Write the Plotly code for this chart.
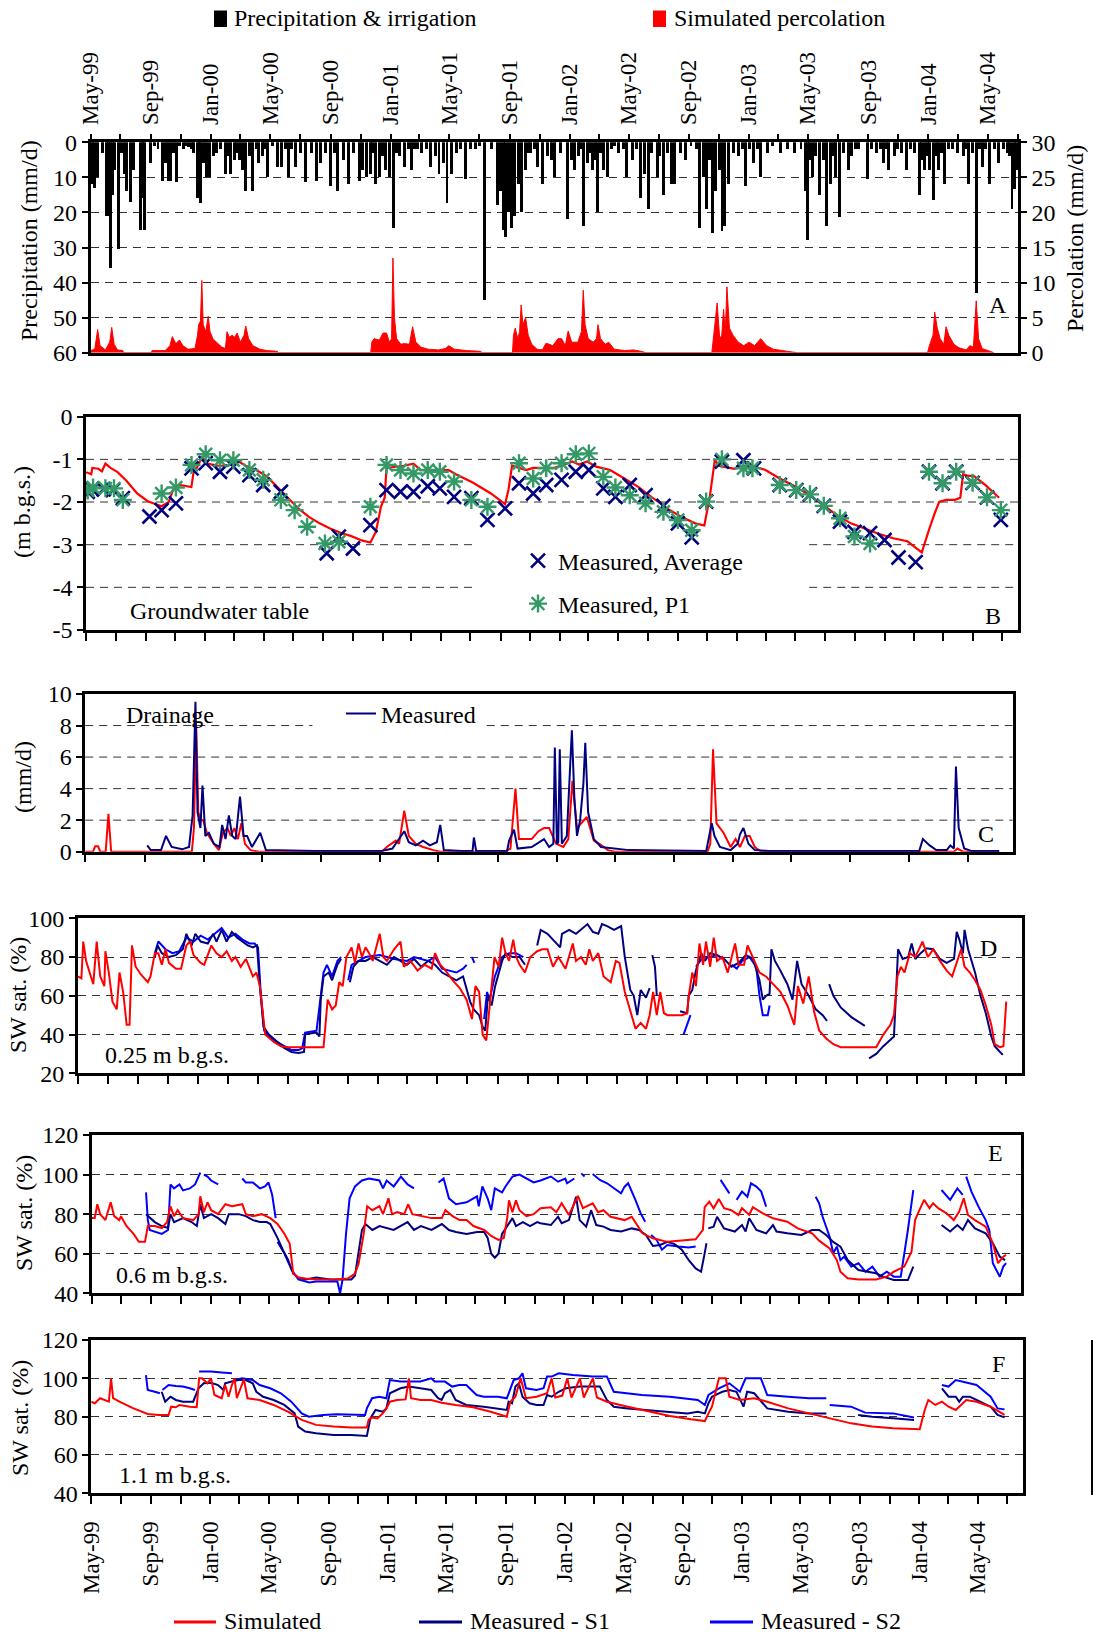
import plotly.graph_objects as go
import pandas as pd

W, H = 1095, 1634
SERIF = "Liberation Serif"
RED, NAVY, BLUE, GREEN = "#ff0000", "#000080", "#0000ff", "#339966"
START = pd.Timestamp("1999-05-01")


def to_date(m):
    """Month offset (fractional, counted from 1 May 1999) -> timestamp."""
    whole = int(m)
    a = START + pd.DateOffset(months=whole)
    b = START + pd.DateOffset(months=whole + 1)
    return a + (b - a) * (m - whole)


def unzip(pairs):
    xs, ys = [], []
    for p in pairs:
        if p is None:
            xs.append(None)
            ys.append(None)
        else:
            xs.append(to_date(p[0]))
            ys.append(p[1])
    return xs, ys


# ---------------- Panel A: rainfall + irrigation (mm/d) and simulated percolation ----------------
precip = [
    (0.09, 12), (0.23, 13), (0.4, 10), (0.75, 3), (1.03, 21), (1.17, 21), (1.27, 36), (1.41, 15), (1.57, 8),
    (1.85, 30.5), (2.04, 3), (2.2, 9), (2.39, 14), (2.63, 17), (2.81, 8), (3.28, 25), (3.42, 16), (3.56, 25),
    (3.92, 6), (4.2, 1), (4.45, 2), (4.74, 11), (4.97, 6), (5.13, 11), (5.32, 11), (5.5, 3), (5.67, 11.5),
    (5.9, 1), (6.14, 2), (6.3, 1), (6.49, 1.5), (6.7, 2), (6.85, 3), (7.08, 16), (7.22, 12), (7.32, 17.5),
    (7.5, 6), (7.67, 10), (7.9, 10), (8.14, 4), (8.37, 3), (8.6, 2), (8.96, 9), (9.1, 4), (9.31, 9), (9.54, 5),
    (9.7, 3), (9.9, 5), (10.13, 8), (10.32, 14), (10.55, 4), (10.79, 14), (11.0, 2), (11.18, 6), (11.42, 4),
    (11.6, 2), (11.77, 10), (12.1, 1), (12.47, 7), (12.71, 7), (12.95, 2), (13.18, 10), (13.4, 2), (13.65, 7),
    (14.0, 3), (14.3, 11.5), (14.7, 3), (15.05, 11), (15.29, 6), (15.64, 3), (15.99, 12.5), (16.2, 3),
    (16.41, 14), (16.81, 5), (17.16, 12), (17.51, 3), (17.87, 11), (18.1, 8), (18.34, 10), (18.62, 9),
    (18.8, 3), (18.97, 12), (19.27, 10), (19.45, 4), (19.62, 8), (19.93, 10), (20.16, 24.5), (20.35, 3),
    (20.56, 4), (20.91, 7), (21.15, 2), (21.38, 8), (21.6, 2), (21.85, 2), (22.09, 3), (22.4, 2), (22.67, 7),
    (23.02, 4), (23.26, 9), (23.54, 6), (23.8, 17.5), (24.08, 9), (24.43, 3), (24.7, 2), (25.02, 10.5),
    (25.37, 2), (25.72, 2), (26.0, 1), (26.33, 45), (26.78, 2), (27.13, 18), (27.36, 14), (27.53, 25),
    (27.71, 27), (27.9, 20), (28.07, 24.5), (28.3, 21), (28.54, 12), (28.77, 20), (29.0, 8), (29.2, 3),
    (29.36, 3), (29.6, 2), (29.82, 7), (30.18, 12), (30.52, 4), (30.76, 5), (30.99, 10), (31.35, 3),
    (31.82, 22), (32.06, 5), (32.3, 8), (32.53, 4), (32.7, 2), (32.89, 24), (33.13, 6), (33.3, 3), (33.48, 8),
    (33.72, 5), (33.91, 20), (34.1, 3), (34.31, 8), (34.55, 10), (34.8, 2), (35.0, 1), (35.26, 3), (35.61, 2),
    (35.85, 10), (36.2, 5), (36.5, 2), (36.75, 16), (37.03, 9), (37.27, 19), (37.5, 3), (37.86, 10),
    (38.05, 4), (38.28, 15), (38.55, 3), (38.8, 12), (39.04, 12), (39.4, 3), (39.75, 5), (40.1, 1),
    (40.45, 2), (40.7, 24.5), (40.93, 10), (41.17, 19), (41.35, 5), (41.53, 26), (41.76, 14), (42.0, 8),
    (42.17, 25.5), (42.35, 24), (42.59, 12), (42.95, 3), (43.3, 4), (43.55, 2), (43.77, 12.5), (44.0, 2),
    (44.25, 6), (44.5, 2), (44.72, 10), (45.19, 3), (45.6, 1), (46.14, 3), (46.61, 2), (47.09, 3), (47.5, 2),
    (47.8, 14), (47.96, 28), (48.1, 5), (48.27, 10), (48.5, 4), (48.74, 15), (49.0, 5), (49.22, 24),
    (49.45, 12), (49.65, 4), (49.81, 10), (50.09, 21.5), (50.35, 3), (50.64, 8), (50.87, 4), (51.1, 2),
    (51.35, 2), (51.94, 10.5), (52.2, 2), (52.53, 3), (52.8, 2), (53.0, 6), (53.2, 2), (53.36, 8), (53.71, 4),
    (53.95, 2), (54.19, 3), (54.54, 8), (54.8, 2), (55.1, 3), (55.37, 15), (55.55, 5), (55.72, 8), (55.9, 4),
    (56.08, 8), (56.32, 16.5), (56.5, 4), (56.67, 8), (56.85, 3), (57.03, 12), (57.3, 2), (57.6, 2),
    (57.97, 3), (58.33, 4), (58.5, 2), (58.68, 12), (58.95, 3), (59.2, 43), (59.4, 2), (59.63, 7), (59.85, 2),
    (60.1, 12), (60.4, 2), (60.69, 6), (61.0, 2), (61.29, 3), (61.45, 4), (61.59, 19), (61.76, 13.5), (61.9, 8),
]

percolation = [
    (0, 0.3), (0.28, 0.5), (0.47, 3.3), (0.63, 1.0), (0.98, 0.4), (1.27, 1.5), (1.41, 3.6), (1.57, 1.2),
    (1.8, 0.4), (2.16, 0.3), (2.2, 0), (4.03, 0), (4.08, 0.3), (4.97, 0.3), (5.28, 1.0), (5.44, 2.3),
    (5.67, 1.3), (5.91, 1.8), (6.14, 1.0), (6.49, 0.5), (6.96, 0.6), (7.13, 2.5), (7.2, 4), (7.32, 4.5),
    (7.41, 10.3), (7.5, 4), (7.67, 3), (7.83, 5.2), (7.95, 3), (8.14, 2), (8.37, 1.5), (8.72, 0.8), (8.96, 0.6),
    (9.07, 3), (9.24, 2.2), (9.43, 2.5), (9.61, 2.2), (9.78, 2.8), (10.01, 1.5), (10.25, 2.5), (10.36, 3.8),
    (10.55, 2), (10.83, 1.0), (11.3, 0.5), (11.77, 0.3), (12.47, 0.2), (12.52, 0), (18.69, 0), (18.76, 1.5),
    (18.92, 2.0), (19.27, 1.8), (19.51, 2.8), (19.74, 2.8), (19.93, 1.5), (20.07, 2.0), (20.16, 13.5),
    (20.26, 5), (20.4, 2), (20.68, 1.2), (20.91, 1.3), (21.27, 1.2), (21.5, 3.7), (21.74, 1.5), (22.09, 0.8),
    (22.56, 0.5), (23.26, 0.4), (23.73, 0.6), (23.96, 1.0), (24.32, 0.5), (25.14, 0.3), (26.07, 0.2),
    (26.19, 0), (28.18, 0), (28.25, 2.5), (28.37, 3.5), (28.54, 2), (28.66, 3), (28.77, 6.8), (28.89, 4),
    (29.07, 5), (29.24, 2.5), (29.47, 1.2), (29.82, 0.5), (30.18, 0.4), (30.41, 1.3), (30.52, 1.3),
    (30.88, 1.0), (31.23, 2.0), (31.47, 2.0), (31.71, 1.0), (31.9, 3.1), (32.13, 1.5), (32.53, 1.5),
    (32.77, 3), (32.89, 8.9), (33.01, 4), (33.24, 2), (33.6, 1.5), (33.84, 2), (33.95, 4), (34.12, 2),
    (34.43, 1.2), (34.66, 1.5), (35.02, 0.5), (35.73, 0.3), (36.32, 0.4), (36.79, 0.2), (37.15, 0),
    (41.53, 0), (41.64, 2), (41.88, 7.1), (42.05, 2), (42.19, 2.5), (42.31, 6.2), (42.43, 3), (42.54, 9.4),
    (42.71, 3.5), (42.95, 2.5), (43.3, 1.5), (43.66, 1.0), (44.01, 1.5), (44.37, 1.0), (44.77, 2),
    (45.19, 1.0), (45.67, 0.5), (46.61, 0.2), (47.28, 0), (55.96, 0), (56.08, 1.0), (56.32, 2.5),
    (56.43, 5.8), (56.6, 3.5), (56.79, 2), (57.03, 1.2), (57.19, 3.7), (57.38, 2.5), (57.74, 1.2),
    (58.09, 0.7), (58.56, 0.4), (58.8, 1.0), (59.04, 0.8), (59.23, 7.4), (59.39, 2), (59.63, 0.6),
    (59.98, 0.3), (60.41, 0),
]

# ---------------- Panel B: groundwater table (m below ground surface) ----------------
gw_simulated = [
    (0, -1.3), (0.35, -1.35), (0.42, -1.2), (0.82, -1.22), (1.06, -1.28), (1.3, -1.1), (1.65, -1.2),
    (2.13, -1.3), (2.72, -1.5), (3.43, -1.8), (4.14, -1.98), (4.73, -2.05), (5.09, -2.1), (5.56, -2.0),
    (5.92, -1.65), (6.27, -1.6), (6.75, -1.62), (7.1, -1.65), (7.29, -1.2), (7.46, -1.2), (7.81, -0.95),
    (8.17, -1.1), (8.88, -1.15), (9.59, -1.15), (10.3, -1.05), (10.78, -1.15), (11.49, -1.25), (12.2, -1.4),
    (12.91, -1.65), (13.62, -1.9), (14.33, -2.15), (15.04, -2.35), (15.75, -2.5), (16.46, -2.62),
    (17.17, -2.72), (17.89, -2.8), (18.6, -2.9), (19.19, -2.95), (19.55, -2.7), (19.9, -2.1), (20.14, -1.9),
    (20.26, -1.2), (20.73, -1.18), (21.44, -1.15), (22.15, -1.1), (22.63, -1.25), (23.81, -1.25),
    (24.52, -1.25), (25.0, -1.35), (26.18, -1.55), (27.36, -1.8), (28.31, -2.05), (28.55, -1.7),
    (28.79, -1.15), (29.26, -1.2), (29.73, -1.25), (30.21, -1.2), (31.64, -1.2), (32.12, -1.15),
    (32.83, -1.05), (33.31, -1.12), (33.91, -1.05), (34.51, -1.17), (35.46, -1.25), (36.42, -1.45),
    (37.38, -1.65), (38.33, -1.9), (39.29, -2.15), (40.25, -2.35), (41.2, -2.5), (41.8, -2.55),
    (41.92, -2.3), (42.16, -1.9), (42.4, -1.3), (42.52, -1.0), (42.76, -1.15), (43.36, -1.18),
    (43.83, -1.22), (44.43, -1.15), (45.03, -1.15), (45.99, -1.25), (46.94, -1.45), (47.9, -1.62),
    (48.86, -1.82), (49.81, -2.05), (50.77, -2.3), (51.73, -2.5), (52.68, -2.62), (53.64, -2.75),
    (54.6, -2.85), (55.55, -2.92), (56.51, -3.18), (56.75, -2.9), (56.99, -2.65), (57.35, -2.3),
    (57.71, -2.0), (58.19, -1.95), (58.78, -1.95), (59.14, -1.9), (59.33, -1.35), (59.62, -1.38),
    (60.1, -1.4), (60.82, -1.6), (61.77, -1.9),
]
gw_avg = [
    (0.11, -1.76), (0.4, -1.7), (1.18, -1.7), (1.82, -1.72), (2.48, -1.91), (4.26, -2.34), (5.09, -2.19),
    (6.04, -2.03), (7.11, -1.21), (8.05, -1.09), (9.0, -1.29), (9.95, -1.17), (11.02, -1.37), (11.97, -1.6),
    (13.15, -1.76), (16.23, -3.2), (17.06, -2.81), (18.0, -3.09), (19.19, -2.54), (20.26, -1.72),
    (21.21, -1.76), (22.15, -1.76), (23.1, -1.63), (23.93, -1.68), (24.88, -1.88), (26.06, -1.91),
    (27.13, -2.42), (28.31, -2.15), (29.26, -1.56), (30.21, -1.8), (31.1, -1.6), (32.12, -1.48),
    (33.07, -1.29), (34.03, -1.25), (34.99, -1.68), (35.82, -1.88), (36.78, -1.6), (37.86, -1.84),
    (39.05, -2.09), (40.01, -2.5), (40.96, -2.83), (41.92, -1.99), (43.0, -1.05), (44.43, -1.02),
    (45.15, -1.21), (46.94, -1.6), (48.07, -1.72), (48.98, -1.82), (49.93, -2.09), (51.01, -2.46),
    (51.97, -2.7), (53.04, -2.73), (54.0, -2.89), (54.96, -3.3), (56.1, -3.41), (56.99, -1.29),
    (57.95, -1.56), (58.86, -1.29), (59.98, -1.55), (60.94, -1.89), (61.89, -2.42),
]
gw_p1 = [
    (0.11, -1.73), (0.47, -1.66), (1.3, -1.68), (1.89, -1.68), (2.48, -1.95), (5.09, -1.8), (6.04, -1.66),
    (7.11, -1.13), (8.05, -0.88), (9.0, -1.02), (9.95, -1.02), (11.02, -1.25), (11.97, -1.48),
    (13.15, -1.95), (14.09, -2.19), (14.92, -2.58), (16.11, -2.97), (17.06, -2.93), (19.19, -2.11),
    (20.26, -1.13), (21.21, -1.25), (22.15, -1.33), (23.1, -1.25), (23.93, -1.29), (24.88, -1.52),
    (26.06, -1.95), (27.13, -2.11), (29.26, -1.09), (30.21, -1.45), (31.1, -1.21), (32.12, -1.09),
    (33.07, -0.88), (34.03, -0.86), (34.99, -1.41), (35.82, -1.66), (36.78, -1.84), (37.86, -2.03),
    (39.05, -2.23), (40.01, -2.42), (40.96, -2.66), (41.92, -1.99), (43.0, -1.0), (44.43, -1.21),
    (45.03, -1.21), (46.94, -1.6), (48.07, -1.72), (48.98, -1.82), (49.93, -2.09), (51.01, -2.38),
    (51.97, -2.81), (53.04, -2.97), (56.99, -1.29), (57.95, -1.56), (58.86, -1.29), (59.98, -1.55),
    (60.94, -1.89), (61.89, -2.19),
]

# ---------------- Panel C: drainage (mm/d) ----------------
drain_simulated = [
    (0, 0), (0.52, 0), (0.67, 0.35), (0.86, 0.35), (1.0, 0), (1.38, 0), (1.57, 2.4), (1.76, 0), (7.22, 0),
    (7.36, 1.5), (7.51, 8.0), (7.65, 2.5), (7.84, 2.0), (7.98, 2.0), (8.22, 1.2), (8.69, 0.5), (9.03, 0.1),
    (9.31, 1.2), (9.64, 1.5), (9.88, 1.0), (10.12, 1.5), (10.36, 0.8), (10.59, 1.8), (10.83, 0.5),
    (11.21, 0.1), (11.78, 0), (20.1, 0), (20.43, 0.3), (21.04, 0.7), (21.28, 0.5), (21.66, 2.6), (22.0, 1.0),
    (22.47, 0.5), (22.95, 0.3), (23.66, 0.1), (24.13, 0), (28.5, 0), (28.88, 0.2), (29.22, 4.0),
    (29.45, 0.8), (30.31, 0.8), (30.78, 1.3), (31.16, 1.5), (31.5, 1.5), (31.97, 0.5), (32.45, 0.3),
    (32.78, 0.8), (33.06, 4.5), (33.4, 1.5), (33.87, 2.0), (34.11, 2.2), (34.58, 0.7), (34.96, 0.5),
    (35.53, 0.1), (36.01, 0), (42.28, 0), (42.47, 0.5), (42.66, 6.5), (42.9, 1.8), (43.37, 1.2),
    (43.85, 0.3), (44.18, 0.8), (44.47, 0.3), (44.8, 1.0), (45.13, 1.0), (45.51, 0.3), (45.99, 0),
    (59.05, 0), (59.29, 0.2), (59.67, 0), (62.14, 0),
]
drain_measured = [
    (4.18, 0.4), (4.42, 0.1), (5.13, 0.1), (5.46, 1.0), (5.84, 0.3), (6.56, 0.15), (7.03, 0.3), (7.27, 2.3),
    (7.46, 9.5), (7.6, 2.5), (7.79, 1.5), (7.93, 4.2), (8.12, 1.0), (8.36, 1.2), (8.69, 0.5), (9.07, 0.3),
    (9.26, 1.7), (9.5, 0.8), (9.74, 2.3), (9.98, 1.0), (10.21, 0.8), (10.5, 3.5), (10.74, 1.0), (10.97, 1.0),
    (11.31, 0.3), (11.88, 1.2), (12.26, 0.1), (15.58, 0.05), (20.1, 0.05), (20.81, 0.2), (21.66, 1.3),
    (22.0, 0.6), (22.47, 0.4), (22.95, 0.7), (23.42, 0.4), (23.9, 0.6), (24.13, 1.7), (24.37, 0.1),
    (25.56, 0.05), (26.32, 0.05), (26.41, 0.9), (26.56, 0.05), (28.65, 0.05), (28.79, 0.7), (29.12, 1.4),
    (29.36, 0.2), (30.31, 0.3), (31.16, 0.8), (31.5, 0.3), (31.78, 0.5), (31.88, 6.6), (32.02, 0.5),
    (32.11, 0.6), (32.21, 6.5), (32.35, 0.5), (32.68, 1.0), (33.02, 7.7), (33.21, 3.3), (33.4, 1.0),
    (33.63, 2.0), (33.87, 4.3), (34.01, 6.9), (34.2, 2.5), (34.58, 0.8), (35.06, 0.3), (36.01, 0.2),
    (36.96, 0.1), (42.19, 0.05), (42.57, 1.8), (42.76, 1.0), (43.13, 0.3), (43.85, 0.1), (44.32, 0.5),
    (44.47, 1.1), (44.7, 1.5), (45.04, 0.5), (45.51, 0.1), (46.46, 0.05), (56.67, 0.05), (56.91, 0.8),
    (57.39, 0.4), (57.86, 0.1), (58.57, 0.1), (58.81, 0.4), (59.05, 0.2), (59.19, 5.4), (59.38, 1.5),
    (59.76, 0.2), (60.24, 0.05), (62.14, 0.05),
]

# ---------------- Panel D: soil-water saturation at 0.25 m (%) ----------------
swD_simulated = [
    (0, 70), (0.23, 69), (0.35, 88), (0.54, 78), (0.77, 72), (1.01, 66), (1.24, 88), (1.48, 70), (1.76, 65),
    (1.83, 83), (2.06, 72), (2.3, 57), (2.58, 53), (2.76, 72), (3.0, 62), (3.23, 45), (3.42, 45), (3.58, 86),
    (3.82, 75), (4.17, 71), (4.64, 67), (4.82, 70), (5.11, 82), (5.34, 82), (5.57, 76), (5.81, 84),
    (6.04, 77), (6.51, 74), (6.86, 74), (7.21, 86), (7.45, 88), (7.68, 81), (8.15, 77), (8.38, 76),
    (8.85, 86), (9.2, 82), (9.56, 80), (9.91, 83), (10.26, 78), (10.49, 80), (10.84, 75), (11.19, 79),
    (11.66, 70), (11.9, 72), (12.13, 65), (12.48, 40), (13.07, 36), (13.54, 34), (14.0, 33.5), (16.35, 33.5),
    (16.46, 43), (16.63, 58), (16.93, 53), (17.17, 55), (17.4, 67), (17.63, 65), (17.87, 80), (18.22, 85),
    (18.45, 77), (18.69, 87), (18.92, 80), (19.16, 85), (19.39, 82), (19.63, 78), (20.09, 92), (20.33, 80),
    (20.56, 78), (21.03, 84), (21.5, 88), (21.73, 75), (22.2, 78), (22.67, 73), (23.14, 76), (23.61, 74),
    (23.84, 82), (24.19, 76), (24.54, 73), (25.01, 68), (25.48, 64), (25.95, 58), (26.3, 48), (26.53, 65),
    (26.77, 62), (27.0, 40), (27.24, 37), (27.47, 55), (27.78, 80), (28.06, 75), (28.29, 90), (28.52, 82),
    (28.76, 78), (29.04, 89), (29.23, 80), (29.46, 76), (29.81, 72), (30.16, 80), (30.63, 83), (30.98, 84),
    (31.32, 84), (31.68, 75), (32.03, 80), (32.5, 74), (32.98, 87), (33.21, 78), (33.57, 80), (33.92, 76),
    (34.16, 84), (34.39, 78), (34.75, 82), (35.1, 70), (35.58, 67), (35.93, 78), (36.17, 77), (36.52, 62),
    (37.23, 43), (37.58, 46), (37.94, 43), (38.18, 50), (38.41, 62), (38.65, 50), (38.88, 62), (39.12, 51),
    (39.36, 50), (40.3, 50), (40.66, 51), (40.77, 60), (41.01, 72), (41.25, 65), (41.48, 87), (41.72, 76),
    (41.91, 88), (42.19, 75), (42.43, 90), (42.66, 78), (43.02, 80), (43.37, 72), (43.85, 87), (44.08, 76),
    (44.44, 76), (44.67, 86), (45.03, 80), (45.5, 72), (45.97, 70), (46.33, 67), (46.92, 62), (47.39, 55),
    (47.86, 45), (48.1, 65), (48.45, 56), (48.81, 70), (49.16, 52), (49.52, 42), (49.99, 38), (50.46, 35),
    (50.94, 33.5), (53.3, 33.5), (53.77, 40), (54.24, 45), (54.48, 50), (54.72, 70), (54.95, 75),
    (55.19, 72), (55.54, 82), (55.9, 80), (56.37, 88), (56.72, 80), (57.08, 84), (57.55, 78), (58.02, 73),
    (58.38, 70), (58.73, 78), (58.97, 84), (59.2, 75), (59.56, 72), (59.91, 68), (60.27, 63), (60.62, 55),
    (60.98, 45), (61.21, 35), (61.57, 33.5), (61.8, 34), (61.99, 57),
]
swD_s1 = [
    (5.11, 80), (5.29, 86), (5.57, 82), (6.04, 80), (6.51, 81), (6.98, 84), (7.21, 92), (7.56, 86), (7.8, 92),
    (8.15, 88), (8.62, 87), (8.97, 92), (9.2, 88), (9.56, 94), (9.91, 88), (10.26, 93), (10.61, 90),
    (10.96, 88), (11.31, 86), (11.66, 85), (11.94, 86), (12.13, 65), (12.37, 44), (12.72, 40), (13.3, 36),
    (13.77, 33), (14.24, 31), (14.71, 30.5), (15.06, 31), (15.13, 40), (15.41, 40.5), (15.88, 41),
    (16.07, 39), (16.16, 58), (16.35, 70), (16.7, 72), (16.93, 68), (17.28, 76), (17.52, 79), None,
    (18.1, 67), (18.34, 75), (18.69, 78), (19.16, 78), (19.63, 80), (20.09, 78), (20.56, 76), (21.03, 80),
    (21.5, 78), (21.97, 76), (22.44, 79), (22.9, 75), (23.37, 78), (23.84, 76), (24.31, 72), (24.78, 70),
    (25.25, 68), (25.71, 70), (26.18, 57), (26.42, 53), (26.77, 50), (27.0, 44), (27.17, 42), (27.35, 60),
    (27.59, 55), (27.82, 65), (28.06, 72), (28.29, 78), (28.52, 82), (28.99, 80), (29.46, 80), (29.81, 76),
    None, (30.63, 86), (30.87, 94), (31.32, 92), (31.8, 88), (32.15, 85), (32.27, 92), (32.74, 94),
    (33.21, 92), (33.69, 95), (34.04, 97), (34.39, 93), (34.75, 92), (34.99, 97), (35.34, 96), (35.81, 94),
    (36.28, 96), (36.52, 80), (36.88, 63), (37.11, 60), (37.35, 50), (37.58, 63), (37.94, 59), (38.18, 64),
    None, (38.36, 81), (38.53, 75), (38.65, 60), None, (40.18, 52), (40.66, 51), (40.77, 60), (41.01, 63),
    (41.25, 73), (41.6, 82), (41.84, 78), (42.19, 82), (42.66, 81), (43.14, 79), (43.61, 75), (44.08, 77),
    (44.56, 81), (45.03, 79), (45.5, 68), (45.74, 58), (45.97, 60), (46.21, 61), (46.33, 84), (46.56, 78),
    (46.92, 73), (47.39, 66), (47.74, 58), (48.05, 78), (48.34, 66), (48.81, 60), (49.28, 53), (49.75, 50),
    (50.04, 47), None, (50.18, 66), (50.46, 60), (50.94, 54), (51.64, 49), (52.54, 44.5), None,
    (52.83, 27.7), (53.3, 30), (53.77, 34), (54.48, 39), (54.6, 58), (54.76, 84), (55.07, 79), (55.43, 80),
    (55.66, 87), (55.9, 79), (56.25, 82), (56.61, 84.5), (57.08, 84), (57.55, 79), (58.02, 77), (58.5, 79),
    (58.68, 93), (58.85, 89), (59.09, 82), (59.2, 94), (59.44, 84), (59.91, 72), (60.27, 60), (60.62, 51),
    (60.98, 39), (61.21, 34), (61.57, 31), (61.76, 29.5),
]
swD_s2 = [
    (5.11, 82), (5.34, 88), (5.81, 84), (6.28, 82), (6.74, 83), (7.21, 90), (7.68, 88), (8.15, 91), (8.62, 89),
    (9.09, 92), (9.56, 95), (10.02, 90), (10.49, 92), (10.96, 89), (11.43, 87), (11.78, 87), (12.01, 85),
    (12.18, 62), (12.41, 42), (12.83, 38), (13.54, 35), (14.24, 32), (14.71, 32), (14.94, 33), (15.13, 41),
    (15.88, 42), (16.16, 60), (16.35, 72), (16.58, 76), (16.93, 70), (17.28, 78), (17.52, 80), None,
    (17.99, 68), (18.22, 76), (19.16, 80), (20.09, 81), (21.03, 79), (21.97, 78), (22.44, 80), (23.37, 78),
    (23.84, 80), (24.31, 74), (24.78, 73), (25.25, 72), (25.71, 74), (25.95, 76), None, (26.3, 80),
    (26.46, 77), None, (27.1, 48), (27.29, 62), (27.45, 58), (27.8, 70), (28.29, 80), (28.76, 82),
    (29.23, 82), (29.7, 80), None, (40.42, 40), (40.66, 45), (40.89, 50), None, (41.25, 75), (41.72, 80),
    (42.19, 80), (42.66, 81), (43.02, 79), None, (43.61, 76), (43.96, 74), (44.32, 78), (44.79, 80),
    (45.26, 75), (45.5, 60), (45.74, 50), (46.09, 50), (46.21, 55),
]

# ---------------- Panel E: soil-water saturation at 0.6 m (%) ----------------
swE_simulated = [
    (0, 78), (0.19, 78), (0.36, 85), (0.55, 80), (0.9, 77), (1.26, 86), (1.5, 79), (1.85, 77), (1.97, 79),
    (2.33, 74), (2.81, 70), (3.16, 66), (3.57, 66), (3.76, 74), (4.23, 74), (4.71, 73), (5.07, 76), (5.3, 84),
    (5.54, 79), (5.78, 82), (6.14, 78), (6.85, 77), (7.21, 80), (7.32, 89), (7.56, 81), (7.8, 86), (8.04, 82),
    (8.51, 80), (8.99, 85), (9.46, 84), (10.18, 85), (10.42, 80), (10.89, 79), (11.49, 80), (12.08, 78),
    (12.56, 75), (13.03, 70), (13.39, 65), (13.63, 50), (13.98, 48), (14.46, 47.5), (15.17, 47), (16.36, 47),
    (17.31, 47.5), (17.79, 50), (18.03, 55), (18.38, 70), (18.62, 84), (18.98, 82), (19.45, 84), (19.69, 80),
    (20.05, 88), (20.29, 80), (20.64, 81), (21.12, 80), (21.4, 85), (21.71, 80), (22.31, 79), (23.02, 78),
    (23.73, 78), (23.97, 82), (24.45, 79), (24.92, 77), (25.4, 77), (25.87, 74), (26.59, 72), (27.06, 69),
    (27.54, 67), (27.9, 68), (28.13, 78), (28.25, 87), (28.49, 81), (28.73, 87), (28.97, 82), (29.44, 79),
    (29.92, 80), (30.39, 83), (31.1, 83.5), (31.46, 81), (31.82, 85.5), (32.3, 79.6), (32.9, 89.2),
    (33.26, 83), (33.98, 85.5), (34.34, 81), (34.7, 82), (35.18, 78.7), (36.14, 77), (36.62, 78.7),
    (37.34, 70.3), (38.06, 67.8), (39.02, 66), (39.98, 66.6), (40.94, 67.3), (41.42, 72), (41.54, 83.5),
    (41.85, 86.3), (42.14, 83), (42.5, 87.7), (42.86, 83), (43.34, 82), (43.82, 79.6), (44.06, 83),
    (44.54, 79.6), (44.78, 83.5), (45.5, 80.4), (46.22, 77.9), (47.18, 76.2), (47.9, 72.8), (48.86, 70.3),
    (49.34, 66.6), (50.06, 62.7), (50.54, 56.8), (50.78, 50.9), (51.26, 47.6), (51.98, 47), (53.18, 47),
    (53.9, 48.4), (54.38, 50.9), (55.1, 53.5), (55.58, 61), (55.82, 77), (56.06, 81.3), (56.42, 87.2),
    (56.78, 83), (57.02, 85.5), (57.38, 83), (57.98, 80.4), (58.46, 77), (58.82, 81.3), (59.13, 88),
    (59.42, 79.6), (59.9, 77), (60.62, 73.7), (61.1, 65.3), (61.46, 55.2), (61.82, 58.5), (62.01, 59.4),
]
swE_s1 = [
    (3.64, 80), (4.23, 76), (4.71, 74), (5.14, 73), (5.3, 80), (5.54, 76), (6.14, 78), (6.73, 76), (7.09, 74),
    (7.32, 85), (7.56, 78), (8.04, 80), (8.51, 78), (8.99, 75), (9.23, 80), (9.94, 80), (10.42, 79),
    (10.89, 77), (11.37, 76), (11.84, 76), (12.08, 75), (12.56, 68), (12.91, 62), (13.27, 57), (13.63, 50),
    (13.98, 48), (14.46, 47), (15.17, 48), (16.12, 47), (17.07, 47), (17.55, 47), (17.79, 49), (18.03, 60),
    (18.26, 72), (18.5, 75), (18.98, 72), (19.45, 74), (19.93, 73), (20.4, 72), (21.36, 76), (21.83, 72),
    (22.31, 74), (23.02, 72), (23.73, 75), (24.21, 72), (24.68, 71), (25.4, 70), (26.11, 71), (26.59, 71),
    (26.82, 68), (27.06, 60), (27.3, 58), (27.54, 60), (27.78, 70), (28.13, 74), (28.49, 78), (28.73, 74),
    (29.2, 76), (29.68, 74), (30.16, 76), (30.38, 75.4), (31.1, 74.5), (31.58, 78.7), (31.82, 75.4),
    (32.3, 77), (32.78, 88.8), (33.02, 77), (33.5, 73.7), (33.86, 82), (34.22, 74.5), (34.7, 73.7),
    (35.18, 72), (35.9, 71.2), (36.62, 72.8), (37.1, 72), (37.58, 69.5), (38.06, 63.9), (38.54, 64.4),
    (39.02, 66), (39.5, 64.9), (39.98, 62), (40.46, 56.8), (40.94, 52.6), (41.3, 50.9), (41.54, 60.2),
    (41.66, 65.3), None, (41.78, 72.8), (42.14, 73.7), (42.38, 78.7), (42.86, 72.8), (43.58, 71.2),
    (44.06, 74.5), (44.3, 71.2), (44.54, 77.9), (45.02, 72), (45.74, 70.3), (46.22, 74.5), (46.46, 71.2),
    (47.18, 70.3), (48.14, 69.5), (48.86, 72), (49.34, 72), (49.82, 69.5), (50.3, 66), (50.78, 63.6),
    (51.26, 56.8), (51.98, 51.8), (53.18, 50.1), (53.66, 48.4), (54.38, 46.7), (55.34, 46.7), (55.7, 53.5),
    None, (57.62, 74.5), (58.22, 71.2), (58.7, 74.5), (59.06, 72), (59.42, 77), (59.9, 72.8), (60.62, 70.3),
    (61.1, 65.3), (61.58, 58.5), (61.94, 56.8),
]
swE_s2 = [
    (3.64, 91), (3.76, 77), (3.88, 72), (4.23, 71), (4.71, 70), (5.14, 72), (5.3, 95), (5.54, 93), (5.9, 95),
    (6.14, 92), (6.61, 93), (6.97, 95), (7.09, 97), (7.32, 101), None, (7.56, 100), (7.8, 99), (8.04, 97),
    (8.51, 95), None, (10.18, 98), (10.42, 96), (10.89, 96), (11.37, 93), (11.72, 94), (11.96, 96),
    (12.2, 90), (12.44, 78), None, (12.56, 66), (13.03, 60), (13.51, 52), (13.98, 47), (14.7, 45.5),
    (15.17, 46), (16.6, 46), (16.79, 40), (16.96, 47), (17.19, 70), (17.43, 88), (17.79, 94), (18.26, 97),
    (18.74, 98), (19.45, 97), (19.69, 93), (19.93, 97), (20.4, 94), (20.88, 99), (21.36, 95), (21.83, 93),
    None, (23.5, 96), (23.85, 98), (24.21, 88), (24.68, 85), (25.4, 86), (26.11, 89), (26.23, 84),
    (26.47, 94), (26.82, 88), (27.06, 82), (27.3, 93), (27.78, 91), (28.01, 94), (28.49, 99), (28.97, 100),
    (29.44, 98), (29.92, 96), (30.39, 97), (31.1, 99), (31.58, 96.4), (32.06, 98), (32.18, 95.6),
    (32.66, 98), None, (33.14, 100.6), (33.38, 99), None, (33.98, 100.3), (34.46, 97.3), (34.94, 95.6),
    (35.42, 93), (35.9, 90.5), (36.14, 93.9), (36.38, 95.6), (36.86, 87.2), (37.22, 80.4), (37.53, 76.2),
    None, (37.94, 69.5), (38.3, 67), (38.66, 62), (39.02, 64.4), (39.74, 63.6), (40.46, 63.2),
    (40.94, 63.6), None, (42.62, 97.3), (42.86, 94.7), (43.22, 90.5), None, (43.7, 87.2), (44.06, 91.4),
    (44.42, 88.8), (44.66, 95.6), (45.02, 93.9), (45.38, 91.4), (45.74, 83.8), None, (49.1, 88.8),
    (49.34, 85.5), (49.58, 78.7), (49.82, 73.7), (50.06, 68.6), (50.3, 60.2), (50.54, 63.6), (50.78, 56.8),
    (51.02, 58.5), (51.5, 53.5), (51.98, 55.2), (52.46, 50.9), (52.94, 53.5), (53.42, 48.4), (53.9, 50.9),
    (54.38, 48.4), (54.86, 48.4), (55.34, 72), (55.7, 92.2), None, (57.62, 92.2), (58.22, 87.2),
    (58.7, 93), (59.06, 89.7), None, (59.3, 99), (59.66, 91.4), (60.14, 83.8), (60.62, 77), (60.86, 72),
    (61.1, 55.2), (61.34, 51.8), (61.58, 48.4), (61.82, 53.5), (62.01, 55.2),
]

# ---------------- Panel F: soil-water saturation at 1.1 m (%) ----------------
swF_simulated = [
    (0, 87.8), (0.24, 87), (0.59, 89.6), (0.95, 88.7), (1.18, 87.8), (1.33, 100), (1.47, 89.6), (1.9, 87.8),
    (2.84, 84.3), (3.79, 81.4), (4.5, 80.9), (5.21, 80.9), (5.38, 85.2), (5.69, 84.9), (5.92, 86.1),
    (6.64, 85.2), (7.11, 84.9), (7.27, 100), (7.46, 100), (7.82, 97.4), (8.06, 100), (8.29, 91.3),
    (8.77, 89.6), (9.0, 96.5), (9.24, 90.4), (9.48, 96.5), (9.67, 100), (9.83, 89.6), (10.31, 99.5),
    (10.55, 89.6), (11.37, 88.7), (12.32, 86.1), (13.27, 82.6), (14.22, 78.3), (15.17, 75.7), (16.35, 74.8),
    (17.54, 74.3), (18.6, 74.3), (18.72, 78.3), (18.96, 79.6), (19.31, 79.1), (19.67, 81.7), (19.91, 84.3),
    (20.14, 87.8), (20.62, 88.7), (21.21, 89), (21.45, 100), (21.61, 89.6), (22.27, 88.7), (22.99, 88.7),
    (23.7, 87.3), (24.64, 86.1), (25.83, 84.9), (27.01, 82.6), (28.08, 80), (28.32, 87.8), (28.67, 90.4),
    (29.03, 100), (29.38, 89.6), (30.09, 90.4), (30.81, 92.2), (31.12, 100), (31.36, 90), (31.83, 91),
    (32.16, 100), (32.44, 90), (33.0, 100), (33.29, 90), (33.95, 100), (34.23, 90), (34.89, 87.8),
    (36.31, 85.2), (37.72, 82.6), (39.14, 80.3), (40.56, 78.6), (41.5, 77.7), (41.74, 81.7), (41.97, 85.2),
    (42.45, 100), (42.92, 100), (43.16, 90.4), (43.86, 88.7), (44.81, 89.6), (45.75, 87.8), (47.17, 84.3),
    (48.58, 81.7), (50.0, 79.1), (51.41, 76.5), (52.83, 74.8), (54.25, 73.9), (56.04, 73.4), (56.37, 83.5),
    (56.61, 88.7), (57.08, 86.1), (57.55, 87.8), (58.02, 85.2), (58.5, 83.5), (59.2, 88.7), (59.91, 87.8),
    (60.85, 85.2), (61.8, 80.9),
]
swF_s1 = [
    (4.74, 93), (4.98, 87.8), (5.33, 90.4), (5.69, 88.7), (6.16, 87.8), (6.87, 87.8), (7.23, 94.8),
    (7.58, 97.4), (8.06, 97.7), (8.53, 96.5), (8.89, 93.9), (9.0, 97.4), (9.48, 98.3), (9.95, 99.1),
    (10.43, 99.1), (10.9, 97.4), (11.14, 93), (11.61, 90.4), (12.32, 88.7), (13.03, 86.1), (13.74, 81.7),
    (13.98, 74.8), (14.45, 72.2), (15.17, 71.3), (16.35, 70.4), (17.54, 70.4), (18.6, 69.9), (18.84, 79.1),
    (19.19, 83.5), (19.67, 82.6), (19.91, 84.3), (20.14, 92.2), (20.85, 94.8), (21.45, 95.7), (22.27, 94.8),
    (22.99, 93.9), (23.46, 89.6), (23.7, 88.7), (23.93, 92.2), (24.29, 93.9), (24.64, 88.7), (25.36, 86.1),
    (26.54, 85.2), (27.49, 84.3), (28.08, 83.5), (28.2, 87.8), (28.44, 87), (28.67, 95.7), (28.91, 97.4),
    (29.15, 90.4), (29.62, 87), (30.09, 86.1), (30.57, 86.1), (30.81, 91.3), (31.12, 90.4), (31.59, 93),
    (32.06, 94.8), (33.0, 95.7), (34.42, 95.7), (34.89, 88.7), (35.36, 85.2), (36.31, 84.3), (37.72, 83.5),
    (39.14, 82.6), (40.32, 81.7), (41.03, 82.6), (41.5, 81.7), (41.74, 87), (41.97, 90.4), (42.68, 93),
    (43.16, 93.9), (43.63, 93), (44.1, 85.2), (44.34, 93), (44.81, 92.2), (45.75, 84.3), (47.17, 82.6),
    (48.58, 81.7), (49.76, 81.7), None, (51.88, 80.9), (52.83, 80), (54.25, 79.1), (55.66, 78.3), None,
    (57.55, 94.8), (58.02, 90.4), (58.5, 90.4), (58.73, 87.8), (58.97, 90.4), (59.44, 90.4), (59.91, 88.7),
    (60.85, 85.2), (61.32, 80.9), (61.8, 79.6),
]
swF_s2 = [
    (3.67, 101.7), (3.79, 93.9), (4.27, 93), (4.62, 92.2), None, (4.79, 93.9), (5.21, 96.5), (5.69, 96),
    (6.16, 95.7), (6.64, 94.8), (6.99, 93.9), None, (7.27, 103.5), (8.06, 103.5), (8.77, 103),
    (9.48, 102.6), None, (9.72, 99.1), (10.19, 100), (10.9, 99.1), (11.37, 96.5), (12.09, 94.8),
    (12.8, 92.2), (13.51, 87.8), (14.22, 81.7), (14.69, 80), (15.64, 80.9), (16.59, 81.2), (17.54, 80.9),
    (18.48, 80.9), (18.6, 84.3), (18.96, 89.6), (19.43, 90.4), (19.91, 89.6), (20.14, 99.1), (20.85, 98.3),
    (21.56, 98.3), (22.27, 98.3), (22.99, 100), (23.22, 98.3), (23.93, 98.3), (24.41, 95.7), (24.88, 96.5),
    (25.36, 96.5), (26.07, 91.3), (26.54, 90.4), (27.49, 90.4), (28.08, 89.6), (28.55, 99.1), (28.91, 100),
    (29.15, 102.6), (29.38, 94.8), (30.09, 93.9), (30.57, 94.8), (30.81, 100.9), (31.12, 100.9),
    (31.59, 102.6), (32.53, 101.7), (33.95, 100.9), (34.89, 100.9), (35.36, 93), (37.25, 91.3),
    (39.14, 90.4), (41.03, 88.7), (41.5, 86.1), (41.74, 91.3), (42.45, 94.8), (43.16, 97.4), (43.86, 93),
    (44.24, 100), (45.28, 100), (45.75, 91.3), (47.17, 90.4), (48.58, 89.6), (49.76, 89.6), None,
    (49.99, 86.1), (51.41, 85.2), (52.36, 82.1), (54.25, 81.7), (55.66, 79.6), None, (57.55, 96.5),
    (58.02, 95.7), (58.5, 99.1), (58.97, 98.3), (59.91, 96.5), (60.85, 90.4), (61.32, 84.3), (61.8, 83.8),
]

# ---------------- figure layout helpers ----------------
def px(x):
    return x / W


def py(y):
    return 1 - y / H


def tick_set(step, last, label_every):
    vals, text = [], []
    for k in range(0, last + 1, step):
        d = START + pd.DateOffset(months=k)
        vals.append(d)
        text.append(d.strftime("%b-%y") if k % label_every == 0 else "")
    return vals, text


fig = go.Figure()

# Panel A
px_, py_ = unzip(precip)
fig.add_trace(go.Bar(x=px_, y=py_, base=0, width=6 * 86400000, marker=dict(color="black", line=dict(width=0)),
                     name="Precipitation & irrigation", showlegend=False, xaxis="x", yaxis="y"))
cx, cy = unzip(percolation)
fig.add_trace(go.Scatter(x=cx, y=cy, mode="lines", line=dict(color=RED, width=1), fill="tozeroy",
                         fillcolor=RED, name="Simulated percolation", showlegend=False, xaxis="x", yaxis="y2"))

# Panel B
gx, gy = unzip(gw_simulated)
fig.add_trace(go.Scatter(x=gx, y=gy, mode="lines", line=dict(color=RED, width=2.2), showlegend=False,
                         xaxis="x2", yaxis="y3"))
ax_, ay_ = unzip(gw_avg)
fig.add_trace(go.Scatter(x=ax_, y=ay_, mode="markers", name="Measured, Average",
                         marker=dict(symbol="x-thin", size=14, color=NAVY, line=dict(width=2.6, color=NAVY)),
                         xaxis="x2", yaxis="y3", legend="legend"))
bx_, by_ = unzip(gw_p1)
fig.add_trace(go.Scatter(x=bx_, y=by_, mode="markers", name="Measured, P1",
                         marker=dict(symbol="asterisk", size=15, color=GREEN, line=dict(width=2.4, color=GREEN)),
                         xaxis="x2", yaxis="y3", legend="legend2"))

# Panel C
dx, dy = unzip(drain_simulated)
fig.add_trace(go.Scatter(x=dx, y=dy, mode="lines", line=dict(color=RED, width=2), showlegend=False,
                         xaxis="x3", yaxis="y4"))
mx, my = unzip(drain_measured)
fig.add_trace(go.Scatter(x=mx, y=my, mode="lines", line=dict(color=NAVY, width=2), name="Measured",
                         xaxis="x3", yaxis="y4", legend="legend3"))

# Panels D, E, F
panels = [
    (swD_simulated, swD_s1, swD_s2, "x4", "y5"),
    (swE_simulated, swE_s1, swE_s2, "x5", "y6"),
    (swF_simulated, swF_s1, swF_s2, "x6", "y7"),
]
for sim, s1, s2, xa, ya in panels:
    x2_, y2_ = unzip(s2)
    fig.add_trace(go.Scatter(x=x2_, y=y2_, mode="lines", line=dict(color=BLUE, width=2), connectgaps=False,
                             name="Measured - S2", showlegend=False, xaxis=xa, yaxis=ya))
    x1_, y1_ = unzip(s1)
    fig.add_trace(go.Scatter(x=x1_, y=y1_, mode="lines", line=dict(color=NAVY, width=2), connectgaps=False,
                             name="Measured - S1", showlegend=False, xaxis=xa, yaxis=ya))
    xs_, ys_ = unzip(sim)
    fig.add_trace(go.Scatter(x=xs_, y=ys_, mode="lines", line=dict(color=RED, width=2),
                             name="Simulated", showlegend=False, xaxis=xa, yaxis=ya))

# ---------------- axes ----------------
TICKFONT = dict(family=SERIF, size=24, color="black")
AX = dict(showline=True, linecolor="black", linewidth=2.5, mirror=True, zeroline=False,
          tickfont=TICKFONT, ticks="outside", tickcolor="black", tickwidth=2, automargin=False)
GRID = dict(showgrid=True, gridcolor="#333333", gridwidth=1, griddash="8px,6px")
NOGRID = dict(showgrid=False)
DATEFONT = dict(family=SERIF, size=23, color="black")

t2_vals, t2_text = tick_set(2, 62, 4)
t4_vals, _ = tick_set(4, 60, 4)
end_a = "2004-07-02"
end_b = "2004-08-02"

dom = {
    "A": ([90.5, 1018], [142.3, 352.7]),
    "B": ([86, 1018], [416.7, 630]),
    "C": ([85.2, 1012.6], [694, 851.7]),
    "D": ([77.9, 1022.1], [918.3, 1073.3]),
    "E": ([91.9, 1021.4], [1135, 1293.3]),
    "F": ([91.2, 1023], [1340, 1493.3]),
}


def xd(k):
    a, b = dom[k][0]
    return [px(a), px(b)]


def yd(k):
    a, b = dom[k][1]
    return [py(b), py(a)]


depth_ticks = [-5, -4, -3, -2, -1, 0]

layout_axes = dict(
    xaxis=dict(AX, **NOGRID, domain=xd("A"), anchor="y", side="top", type="date",
               range=["1999-05-01", end_a], tickmode="array", tickvals=t2_vals, ticktext=t2_text,
               tickangle=-90, ticklen=6, ticklabelstandoff=4, tickfont=DATEFONT),
    yaxis=dict(AX, **GRID, domain=yd("A"), anchor="x", range=[60, 0], dtick=10, ticklen=6, mirror=False),
    yaxis2=dict(AX, **NOGRID, domain=yd("A"), anchor="x", overlaying="y", side="right",
                range=[0, 30], dtick=5, ticklen=6, mirror=False),
    xaxis2=dict(AX, **NOGRID, domain=xd("B"), anchor="y3", type="date", range=["1999-05-01", end_b],
                tickmode="array", tickvals=t2_vals, ticktext=[""] * len(t2_vals), ticklen=8),
    yaxis3=dict(AX, **NOGRID, domain=yd("B"), anchor="x2", range=[-5, 0], tickmode="array",
                tickvals=depth_ticks, ticktext=[str(v) for v in depth_ticks], ticklen=6),
    xaxis3=dict(AX, **NOGRID, domain=xd("C"), anchor="y4", type="date", range=["1999-05-01", end_b],
                tickmode="array", tickvals=t4_vals, ticktext=[""] * len(t4_vals), ticklen=8),
    yaxis4=dict(AX, **NOGRID, domain=yd("C"), anchor="x3", range=[0, 10], dtick=2, ticklen=6),
    xaxis4=dict(AX, **NOGRID, domain=xd("D"), anchor="y5", type="date", range=["1999-05-01", end_b],
                tickmode="array", tickvals=t2_vals, ticktext=[""] * len(t2_vals), ticklen=8),
    yaxis5=dict(AX, **GRID, domain=yd("D"), anchor="x4", range=[20, 100], dtick=20, ticklen=6),
    xaxis5=dict(AX, **NOGRID, domain=xd("E"), anchor="y6", type="date", range=["1999-05-01", end_b],
                tickmode="array", tickvals=t2_vals, ticktext=[""] * len(t2_vals), ticklen=8),
    yaxis6=dict(AX, **GRID, domain=yd("E"), anchor="x5", range=[40, 120], dtick=20, ticklen=6),
    xaxis6=dict(AX, **NOGRID, domain=xd("F"), anchor="y7", type="date", range=["1999-05-01", end_b],
                tickmode="array", tickvals=t2_vals, ticktext=t2_text, ticklen=8, tickangle=-90,
                ticklabelstandoff=8, tickfont=DATEFONT),
    yaxis7=dict(AX, **GRID, domain=yd("F"), anchor="x6", range=[40, 120], dtick=20, ticklen=6),
)

LEGFONT = dict(family=SERIF, size=24, color="black")


def leg(xp, yp):
    return dict(x=px(xp), y=py(yp), xanchor="left", yanchor="middle", font=LEGFONT,
                bgcolor="rgba(0,0,0,0)", borderwidth=0, orientation="v")


legends = dict(legend=leg(518, 561), legend2=leg(518, 604), legend3=leg(341, 714))

TXT = dict(family=SERIF, size=24, color="black")


def note(text, x, y, anchor="center", angle=0):
    return dict(text=text, x=px(x), y=py(y), xref="paper", yref="paper", xanchor=anchor, yanchor="middle",
                showarrow=False, font=TXT, textangle=angle)


annotations = [
    note("Precipitation &amp; irrigation", 232, 18, anchor="left"),
    note("Simulated percolation", 672, 18, anchor="left"),
    note("Simulated", 222, 1621, anchor="left"),
    note("Measured - S1", 468, 1621, anchor="left"),
    note("Measured - S2", 759, 1621, anchor="left"),
    note("Precipitation (mm/d)", 29, 241, angle=-90),
    note("Percolation (mm/d)", 1075, 239, angle=-90),
    note("(m b.g.s.)", 22, 512, angle=-90),
    note("(mm/d)", 23, 777, angle=-90),
    note("SW sat. (%)", 18, 995, angle=-90),
    note("SW sat. (%)", 24, 1213, angle=-90),
    note("SW sat. (%)", 20, 1418, angle=-90),
    note("A", 998, 305), note("B", 993, 616), note("C", 986, 834),
    note("D", 988, 948), note("E", 995, 1153), note("F", 998, 1364),
    note("Groundwater table", 128, 611, anchor="left"),
    note("Drainage", 124, 715, anchor="left"),
    note("0.25 m b.g.s.", 103, 1055, anchor="left"),
    note("0.6 m b.g.s.", 114, 1275, anchor="left"),
    note("1.1 m b.g.s.", 117, 1475, anchor="left"),
]

DASH = dict(color="#333333", width=1, dash="8px,6px")


def hgrid(xref, yref, yv, x0=0.0, x1=1.0):
    return dict(type="line", xref=xref, yref=yref, x0=x0, x1=x1, y0=yv, y1=yv, line=DASH, layer="below")


shapes = [
    # dashed grid of the groundwater panel, broken behind its legend
    hgrid("x2 domain", "y3", -1), hgrid("x2 domain", "y3", -2),
    hgrid("x2 domain", "y3", -3, 0, 0.415), hgrid("x2 domain", "y3", -3, 0.776, 1),
    hgrid("x2 domain", "y3", -4, 0, 0.415), hgrid("x2 domain", "y3", -4, 0.776, 1),
    # dashed grid of the drainage panel, broken behind its legend
    hgrid("x3 domain", "y4", 2), hgrid("x3 domain", "y4", 4), hgrid("x3 domain", "y4", 6),
    hgrid("x3 domain", "y4", 8, 0, 0.245), hgrid("x3 domain", "y4", 8, 0.433, 1),
    # legend keys at the top and bottom of the figure
    dict(type="rect", xref="paper", yref="paper", x0=px(214), x1=px(227), y0=py(27), y1=py(10.5),
         fillcolor="black", line=dict(width=0)),
    dict(type="rect", xref="paper", yref="paper", x0=px(653), x1=px(666), y0=py(27), y1=py(10.5),
         fillcolor=RED, line=dict(width=0)),
    dict(type="line", xref="paper", yref="paper", x0=px(174), x1=px(216), y0=py(1622), y1=py(1622),
         line=dict(color=RED, width=3)),
    dict(type="line", xref="paper", yref="paper", x0=px(419), x1=px(462), y0=py(1622), y1=py(1622),
         line=dict(color=NAVY, width=3)),
    dict(type="line", xref="paper", yref="paper", x0=px(710), x1=px(753), y0=py(1622), y1=py(1622),
         line=dict(color=BLUE, width=3)),
    # frame rule at the right edge of the last panel
    dict(type="line", xref="paper", yref="paper", x0=px(1092), x1=px(1092), y0=py(1495), y1=py(1340),
         line=dict(color="black", width=2)),
]

fig.update_layout(
    width=W, height=H, margin=dict(l=0, r=0, t=0, b=0),
    paper_bgcolor="white", plot_bgcolor="white",
    font=dict(family=SERIF, size=24, color="black"),
    bargap=0, barmode="overlay",
    annotations=annotations, shapes=shapes,
    **layout_axes, **legends,
)

fig.write_html("out.html")
